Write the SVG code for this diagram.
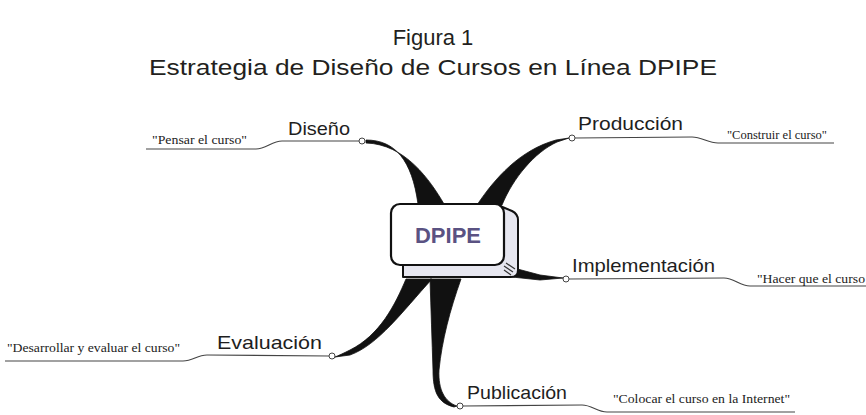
<svg xmlns="http://www.w3.org/2000/svg" width="866" height="415" viewBox="0 0 866 415">
<style>
.title{font-family:"Liberation Sans",Arial,sans-serif;font-size:22px;fill:#231f20}
.lbl{font-family:"Liberation Sans",Arial,sans-serif;font-size:19px;fill:#1e1e1e}
.q{font-family:"Liberation Serif","Times New Roman",serif;font-size:12px;fill:#222}
.thin{fill:none;stroke:#444;stroke-width:1.1}
.br{fill:#111;stroke:#111;stroke-width:0.8}
.dot{fill:#fff;stroke:#444;stroke-width:1}
</style>
<rect width="866" height="415" fill="#fff"/>
<text class="title" x="433" y="45" text-anchor="middle">Figura 1</text>
<text class="title" x="433" y="75" text-anchor="middle" textLength="568" lengthAdjust="spacingAndGlyphs">Estrategia de Diseño de Cursos en Línea DPIPE</text>

<g id="connectors">
  <path class="br" d="M 366 140 C 395 140, 412 160, 418 204 L 444 204 C 430 180, 405 144, 366 143 Z"/>
  <path class="br" d="M 477 205 C 495 178, 520 150, 556 140 L 569 138 L 557 142 C 535 152, 513 178, 502 205 Z"/>
  <path class="br" d="M 510 267 L 540 275 L 563 278 L 540 280 L 512 277 Z"/>
  <path class="br" d="M 406 279 C 395 305, 380 335, 350 350 Q 340 355, 335 357 L 350 355 C 378 345, 402 312, 432 279 Z"/>
  <path class="br" d="M 430 279 L 461 279 C 450 310, 442 340, 439 370 C 438 390, 445 402, 457 406 L 454 407 C 438 403, 433 392, 433 370 C 432 340, 431 310, 430 279 Z"/>
  <path class="thin" d="M 359 141 L 282 141 C 272 141, 266 149, 256 149 L 146 149"/>
  <path class="thin" d="M 575 138 L 692 137 C 702 137, 708 143, 718 143 L 834 143"/>
  <path class="thin" d="M 569 279 L 724 278 C 734 278, 740 286, 750 286 L 866 286"/>
  <path class="thin" d="M 329 356 L 207 355 C 197 355, 193 361, 183 361 L 5 361"/>
  <path class="thin" d="M 463 406 L 582 405 C 592 405, 597 412, 607 412 L 795 412"/>
  <circle class="dot" cx="362" cy="141" r="3"/>
  <circle class="dot" cx="572" cy="138" r="3"/>
  <circle class="dot" cx="566" cy="279" r="3"/>
  <circle class="dot" cx="332" cy="356" r="3"/>
  <circle class="dot" cx="460" cy="406" r="3"/>
</g>

<g id="dpipe">
  <path d="M 403 262 L 403 277 L 511 277 Q 518 277 518 270 L 518 220 Q 518 214 512 211 L 500 206 L 500 262 Z" fill="#e6e6ef" stroke="#111" stroke-width="2" stroke-linejoin="round"/>
  <rect x="391" y="204" width="113" height="61" rx="9" fill="#fff" stroke="#111" stroke-width="2.2"/>
  <path d="M 504 266 L 513 272 M 506 263 L 515 269 M 504 270 L 511 275" stroke="#333" stroke-width="1.2"/>
  <text x="448" y="243" text-anchor="middle" font-family="'Liberation Sans',Arial,sans-serif" font-weight="bold" font-size="22" fill="#5a5282">DPIPE</text>
</g>

<g id="diseno">
  <text class="lbl" x="288" y="135" textLength="62" lengthAdjust="spacingAndGlyphs">Diseño</text>
  <text class="q" x="152" y="144" textLength="95" lengthAdjust="spacingAndGlyphs">"Pensar el curso"</text>
</g>
<g id="produccion">
  <text class="lbl" x="578" y="130" textLength="105" lengthAdjust="spacingAndGlyphs">Producción</text>
  <text class="q" x="727" y="139" textLength="100" lengthAdjust="spacingAndGlyphs">"Construir el curso"</text>
</g>
<g id="implementacion">
  <text class="lbl" x="572" y="272" textLength="143" lengthAdjust="spacingAndGlyphs">Implementación</text>
  <text class="q" x="757" y="283" textLength="108" lengthAdjust="spacingAndGlyphs">"Hacer que el curso</text>
</g>
<g id="evaluacion">
  <text class="lbl" x="217" y="349" textLength="105" lengthAdjust="spacingAndGlyphs">Evaluación</text>
  <text class="q" x="7" y="352" textLength="173" lengthAdjust="spacingAndGlyphs">"Desarrollar y evaluar el curso"</text>
</g>
<g id="publicacion">
  <text class="lbl" x="467" y="399" textLength="100" lengthAdjust="spacingAndGlyphs">Publicación</text>
  <text class="q" x="613" y="403" textLength="177" lengthAdjust="spacingAndGlyphs">"Colocar el curso en la Internet"</text>
</g>
</svg>
